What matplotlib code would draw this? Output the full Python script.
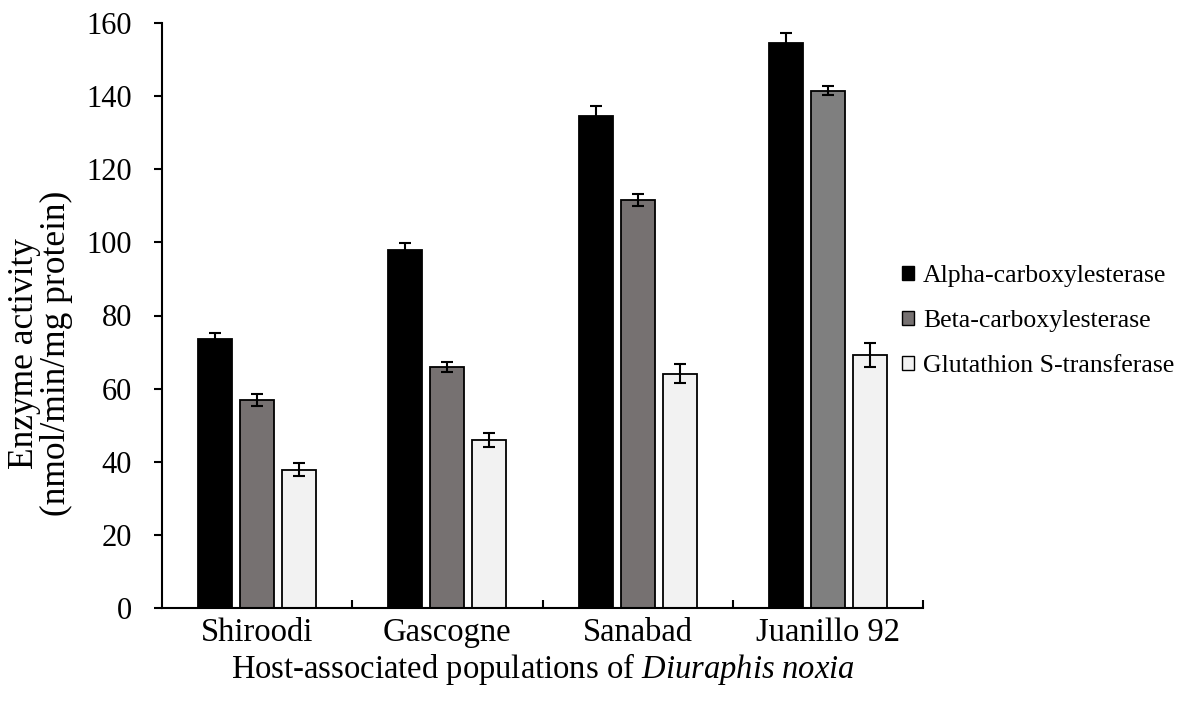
import matplotlib
matplotlib.use("Agg")
import matplotlib.pyplot as plt
import numpy as np
from matplotlib.patches import Patch

plt.rcParams['font.family'] = ['Liberation Serif', 'DejaVu Serif']
plt.rcParams['mathtext.fontset'] = 'custom'
plt.rcParams['mathtext.it'] = 'Liberation Serif:italic'
plt.rcParams['mathtext.rm'] = 'Liberation Serif'

categories = ["Shiroodi", "Gascogne", "Sanabad", "Juanillo 92"]
series_names = ["Alpha-carboxylesterase", "Beta-carboxylesterase", "Glutathion S-transferase"]
alpha_vals = [73.7, 98.0, 134.7, 154.6]
alpha_err = [1.6, 1.9, 2.7, 2.8]
beta_vals = [56.9, 66.0, 111.5, 141.5]
beta_err = [1.7, 1.4, 1.6, 1.2]
gst_vals = [37.8, 45.9, 64.1, 69.1]
gst_err = [1.8, 2.0, 2.6, 3.3]
yticks = [0, 20, 40, 60, 80, 100, 120, 140, 160]

fig = plt.figure(figsize=(11.86, 7.08), dpi=100)
ax = fig.add_axes([162/1186, 1-608/708, (923-162)/1186, (608-23)/708])

x = np.arange(len(categories))
w = 0.179
step = 0.221
colors = ['#000000', '#767171', '#f2f2f2']
beta_colors = ['#767171', '#767171', '#767171', '#7f7f7f']
data = [(alpha_vals, alpha_err), (beta_vals, beta_err), (gst_vals, gst_err)]
for k, (vals, errs) in enumerate(data):
    pos = x + (k - 1) * step
    fc = beta_colors if k == 1 else colors[k]
    ax.bar(pos, vals, width=w, color=fc, edgecolor='black', linewidth=1.3, zorder=2)
    ax.errorbar(pos, vals, yerr=errs, fmt='none', ecolor='black', elinewidth=1.5,
                capsize=4.2, capthick=1.5, zorder=3)

ax.set_xlim(-0.5, 3.5)
ax.set_ylim(0, 160)
ax.set_yticks(yticks)
ax.set_yticklabels([str(t) for t in yticks], fontsize=22)
ax.set_xticks(x)
ax.set_xticklabels(categories, fontsize=23.5)
ax.tick_params(axis='x', which='major', length=0, pad=7)
ax.set_xticks([0.5, 1.5, 2.5, 3.5], minor=True)
ax.tick_params(axis='x', which='minor', direction='in', length=6, width=1.5)
ax.tick_params(axis='y', direction='out', length=5.5, width=1.5, pad=16)
for s in ['top', 'right']:
    ax.spines[s].set_visible(False)
for s in ['left', 'bottom']:
    ax.spines[s].set_linewidth(1.5)

ax.set_xlabel("Host-associated populations of $\\mathit{Diuraphis\\ noxia}$", fontsize=23.5, labelpad=2)
ax.set_ylabel("Enzyme activity\n(nmol/min/mg protein)", fontsize=25.5, linespacing=0.95)
ax.yaxis.set_label_coords(-(162-73)/761, 0.435)

handles = [Patch(facecolor=colors[i], edgecolor='black', linewidth=1.0) for i in range(3)]
fig.legend(handles, series_names, loc='center left', bbox_to_anchor=(902/1186, 1-321/708),
           frameon=False, fontsize=18.5, handlelength=0.46, handleheight=0.46,
           handletextpad=0.36, labelspacing=0.9, borderaxespad=0, borderpad=0)

fig.savefig("out.png", dpi=100)
